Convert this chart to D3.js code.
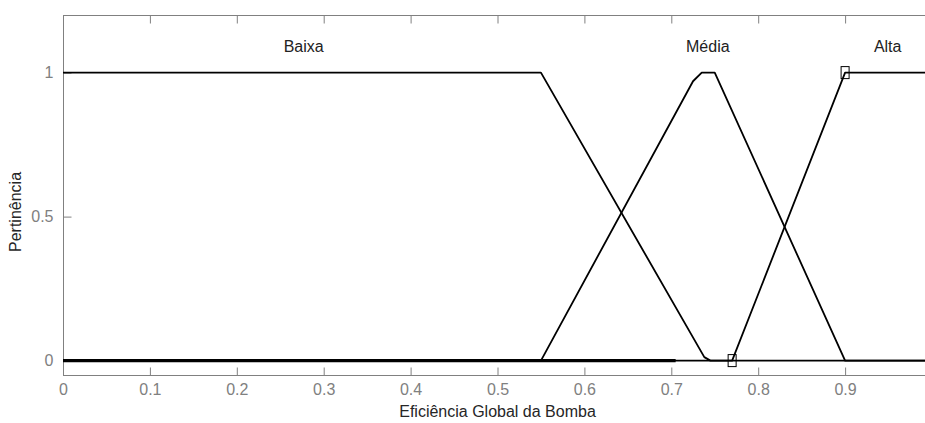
<!DOCTYPE html>
<html><head><meta charset="utf-8">
<script src="https://cdn.jsdelivr.net/npm/d3@7"></script>
<style>body{margin:0;background:#fff}svg{display:block}text{font-family:"Liberation Sans",Arial,sans-serif}</style>
</head><body><svg id="c" width="925" height="423"></svg>
<script>
const xTicks = [0,0.1,0.2,0.3,0.4,0.5,0.6,0.7,0.8,0.9];
const yTicks = [0,0.5,1];
const baixa = [[0,1],[0.55,1],[0.738,0.012],[0.745,0],[1,0]];
const media = [[0,0],[0.55,0],[0.725,0.97],[0.735,1],[0.75,1],[0.9,0],[1,0]];
const alta = [[0,0],[0.77,0],[0.9,1],[1,1]];
const baseSeg = [[0,0],[0.705,0]];
const markers = [[0.77,0],[0.9,1]];
const labels = [{t:"Baixa",x:0.277,y:1.07},{t:"Média",x:0.742,y:1.07},{t:"Alta",x:0.949,y:1.07}];

const svg = d3.select("#c");
const x = d3.scaleLinear().domain([0,1]).range([63,932]);
const y = d3.scaleLinear().domain([-0.05,1.2]).range([375,15]);
const grey = "#808080";

// frame
svg.append("line").attr("x1",63).attr("x2",925).attr("y1",15.5).attr("y2",15.5).attr("stroke",grey);
svg.append("line").attr("x1",63).attr("x2",925).attr("y1",375.5).attr("y2",375.5).attr("stroke",grey);
svg.append("line").attr("x1",63.5).attr("x2",63.5).attr("y1",15).attr("y2",376).attr("stroke",grey);

const xb = svg.append("g").attr("transform","translate(0,375.5)").call(d3.axisBottom(x).tickValues(xTicks).tickSize(-8).tickPadding(12).tickFormat(d=>d3.format("")(d)));
const xt = svg.append("g").attr("transform","translate(0,15.5)").call(d3.axisTop(x).tickValues(xTicks).tickSize(-8).tickFormat(""));
const yl = svg.append("g").attr("transform","translate(63.5,0)").call(d3.axisLeft(y).tickValues(yTicks).tickSize(-8).tickPadding(10).tickFormat(d=>d3.format("")(d)));
[xb,xt,yl].forEach(g=>{g.select(".domain").remove();g.selectAll("line").attr("stroke",grey);g.selectAll("text").attr("fill",grey).style("font-size","16px");});
xb.selectAll("text").attr("dy","0.45em");

const line = d3.line().x(d=>x(d[0])).y(d=>y(d[1]));
const plot = svg.append("g");
plot.append("path").datum(baseSeg).attr("d",line).attr("fill","none").attr("stroke","#000").attr("stroke-width",3.2);
[baixa,media,alta].forEach(s=>plot.append("path").datum(s).attr("d",line).attr("fill","none").attr("stroke","#000").attr("stroke-width",1.8).attr("stroke-linejoin","round"));
plot.selectAll("rect.m").data(markers).join("rect").attr("x",d=>x(d[0])-4).attr("y",d=>y(d[1])-6).attr("width",8).attr("height",12).attr("fill","none").attr("stroke","#000").attr("stroke-width",1);

svg.selectAll("text.lab").data(labels).join("text").attr("class","lab").attr("x",d=>x(d.x)).attr("y",d=>y(d.y)).attr("text-anchor","middle").attr("fill","#222").style("font-size","16px").text(d=>d.t);

svg.append("text").attr("x",x(0.5)).attr("y",417).attr("text-anchor","middle").attr("fill","#262626").style("font-size","16px").text("Eficiência Global da Bomba");
svg.append("text").attr("transform","translate(21,212) rotate(-90)").attr("text-anchor","middle").attr("fill","#262626").style("font-size","16px").text("Pertinência");
</script></body></html>
